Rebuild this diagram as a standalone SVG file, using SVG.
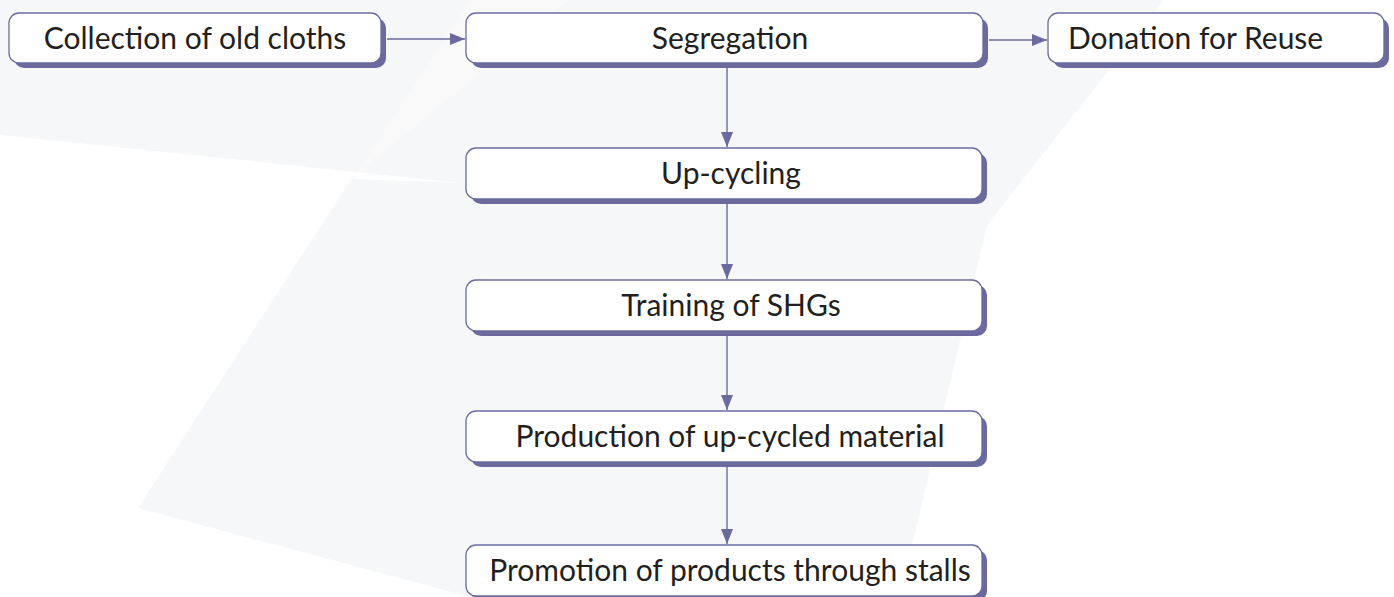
<svg xmlns="http://www.w3.org/2000/svg" width="1394" height="597" viewBox="0 0 1394 597">
<defs>
<style>
.shadow{fill:#6a6a9e}
.box{fill:#ffffff;stroke:#6b6ba0;stroke-width:1.3}
.lbl{font-family:Lato,"Open Sans",sans-serif;font-size:30px;fill:#231f20}
.conn{stroke:#6a6a9e;stroke-width:1.4;fill:none}
</style>
<marker id="arr" markerWidth="16" markerHeight="12" refX="15" refY="6" orient="auto" markerUnits="userSpaceOnUse">
<path d="M0,0 L15,6 L0,12 Z" fill="#6a6a9e"/>
</marker>
</defs>
<rect width="1394" height="597" fill="#ffffff"/>
<g id="background">
<polygon points="0,0 1164,0 987,225 900,597 470,597 138,508 351,179 462,183 0,135" fill="#f6f7f8"/>
<polygon points="351,179 569,0 470,0 138,508" fill="#f9f9fa"/>
</g>
<g id="connectors">
<line class="conn" x1="387" y1="39" x2="465" y2="39" marker-end="url(#arr)"/>
<line class="conn" x1="989" y1="40" x2="1047" y2="40" marker-end="url(#arr)"/>
<line class="conn" x1="727" y1="68" x2="727" y2="147" marker-end="url(#arr)"/>
<line class="conn" x1="727" y1="204" x2="727" y2="279" marker-end="url(#arr)"/>
<line class="conn" x1="727" y1="336" x2="727" y2="410" marker-end="url(#arr)"/>
<line class="conn" x1="727" y1="467" x2="727" y2="544" marker-end="url(#arr)"/>
</g>
<g id="n1">
<rect class="shadow" x="14" y="18" width="372" height="50" rx="10"/>
<rect class="box" x="9" y="13" width="372" height="50" rx="10"/>
<text class="lbl" x="195" y="49" text-anchor="middle">Collection of old cloths</text>
</g>
<g id="n2">
<rect class="shadow" x="471" y="18" width="517" height="50" rx="10"/>
<rect class="box" x="466" y="13" width="517" height="50" rx="10"/>
<text class="lbl" x="730" y="49" text-anchor="middle">Segregation</text>
</g>
<g id="n3">
<rect class="shadow" x="1053" y="18" width="336" height="50" rx="10"/>
<rect class="box" x="1048" y="13" width="336" height="50" rx="10"/>
<text class="lbl" x="1068" y="49">Donation for Reuse</text>
</g>
<g id="n4">
<rect class="shadow" x="471" y="153" width="516" height="51" rx="10"/>
<rect class="box" x="466" y="148" width="516" height="51" rx="10"/>
<text class="lbl" x="731" y="184" text-anchor="middle">Up-cycling</text>
</g>
<g id="n5">
<rect class="shadow" x="471" y="285" width="516" height="51" rx="10"/>
<rect class="box" x="466" y="280" width="516" height="51" rx="10"/>
<text class="lbl" x="731" y="316" text-anchor="middle">Training of SHGs</text>
</g>
<g id="n6">
<rect class="shadow" x="471" y="416" width="516" height="51" rx="10"/>
<rect class="box" x="466" y="411" width="516" height="51" rx="10"/>
<text class="lbl" x="730" y="447" text-anchor="middle">Production of up-cycled material</text>
</g>
<g id="n7">
<rect class="shadow" x="471" y="550" width="516" height="51" rx="10"/>
<rect class="box" x="466" y="545" width="516" height="51" rx="10"/>
<text class="lbl" x="730" y="581" text-anchor="middle">Promotion of products through stalls</text>
</g>
</svg>
